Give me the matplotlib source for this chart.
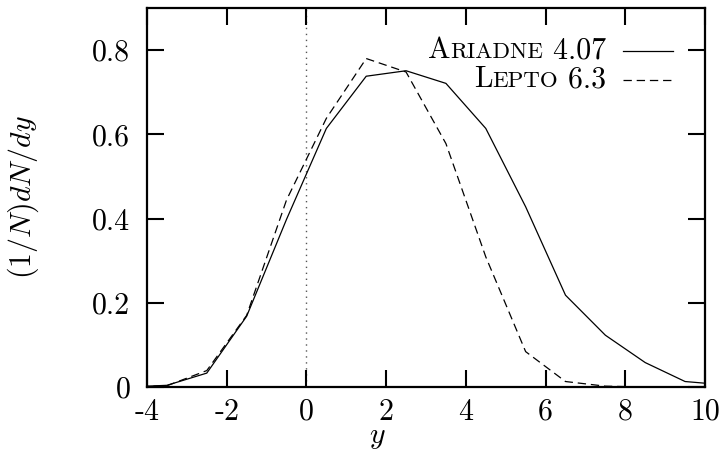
import matplotlib
matplotlib.use("Agg")
import matplotlib.pyplot as plt
from matplotlib.offsetbox import TextArea, HPacker, VPacker, DrawingArea, AnchoredOffsetbox
from matplotlib.lines import Line2D

# Rapidity bin centres and normalised distributions
y_bins = [-4.5, -3.5, -2.5, -1.5, -0.5, 0.5, 1.5, 2.5, 3.5, 4.5,
          5.5, 6.5, 7.5, 8.5, 9.5, 10.5]
ariadne = [0.0, 0.004, 0.033, 0.168, 0.398, 0.614, 0.738, 0.751, 0.721, 0.614,
           0.428, 0.218, 0.123, 0.058, 0.013, 0.005]
lepto = [0.0, 0.003, 0.039, 0.170, 0.444, 0.638, 0.780, 0.748, 0.578, 0.309,
         0.084, 0.013, 0.002, 0.0, 0.0, 0.0]

x_ticks = [-4, -2, 0, 2, 4, 6, 8, 10]
x_tick_labels = ["-4", "-2", "0", "2", "4", "6", "8", "10"]
y_ticks = [0, 0.2, 0.4, 0.6, 0.8]
y_tick_labels = ["0", "0.2", "0.4", "0.6", "0.8"]

plt.rcParams["mathtext.fontset"] = "cm"
plt.rcParams["lines.scale_dashes"] = False
FONT = "cmr10"
BIG = 21.5
SMALL = 16.5

fig = plt.figure(figsize=(7.21, 4.51), dpi=100)
ax = fig.add_axes([147 / 721, 1 - 387 / 451, 558 / 721, 379 / 451])

ax.axvline(0, color="#555555", lw=1.0, linestyle=(0, (1, 3.3)), zorder=1)
ax.plot(y_bins, ariadne, color="black", lw=0.9, zorder=3)
ax.plot(y_bins, lepto, color="black", lw=0.9, dashes=(6, 3.5), zorder=3)

ax.set_xlim(-4, 10)
ax.set_ylim(0, 0.9)
ax.set_xticks(x_ticks)
ax.set_xticklabels(x_tick_labels, fontfamily=FONT, fontsize=BIG)
ax.set_yticks(y_ticks)
ax.set_yticklabels(y_tick_labels, fontfamily=FONT, fontsize=BIG)
ax.tick_params(direction="in", length=12, width=1.5, top=True, right=True,
               pad=8)
ax.tick_params(axis="y", pad=12)
for s in ax.spines.values():
    s.set_linewidth(1.6)

ax.set_xlabel(r"$y$", fontsize=BIG)
ax.xaxis.set_label_coords(0.412, -0.093)
ax.set_ylabel(r"$(1/N)dN/dy$", fontsize=BIG)
ax.yaxis.set_label_coords(-0.19, 0.5)


def small_caps_row(first, rest, tail, dashes):
    parts = [
        TextArea(first, textprops=dict(fontfamily=FONT, fontsize=BIG)),
        TextArea(rest, textprops=dict(fontfamily=FONT, fontsize=SMALL)),
        TextArea(tail, textprops=dict(fontfamily=FONT, fontsize=BIG)),
    ]
    name = HPacker(children=parts, align="baseline", pad=0, sep=0)
    da = DrawingArea(36, 14, 0, 0)
    ln = Line2D([0, 36], [7, 7], color="black", lw=0.9)
    if dashes is not None:
        ln.set_dashes(dashes)
    da.add_artist(ln)
    return HPacker(children=[name, da], align="center", pad=0, sep=12)


row1 = small_caps_row("A", "RIADNE", " 4.07", None)
row2 = small_caps_row("L", "EPTO", " 6.3", (6, 3.5))
legend_box = VPacker(children=[row1, row2], align="right", pad=0, sep=1)
anchored = AnchoredOffsetbox(loc="upper right", child=legend_box, frameon=False,
                             bbox_to_anchor=(673 / 721, 1 - 37 / 451),
                             bbox_transform=fig.transFigure, borderpad=0, pad=0)
ax.add_artist(anchored)

fig.savefig("out.png", dpi=100)
